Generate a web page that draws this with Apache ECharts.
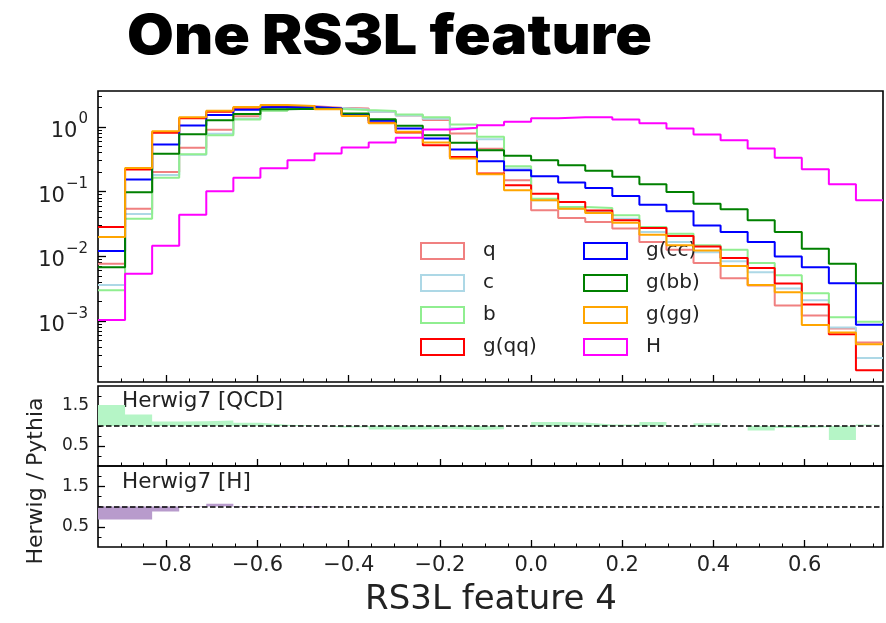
<!DOCTYPE html>
<html>
<head>
<meta charset="utf-8">
<script src="https://cdn.jsdelivr.net/npm/echarts@6/dist/echarts.min.js"></script>
<style>
html, body { margin: 0; padding: 0; background: #ffffff; }
#chart { width: 886px; height: 623px; }
</style>
</head>
<body>
<div id="chart"></div>
<script>
// Histogram bin edges (29 equal bins)
const binEdges = [-0.95, -0.890625, -0.83125, -0.771875, -0.7125, -0.653125, -0.59375, -0.534375,
  -0.475, -0.415625, -0.35625, -0.296875, -0.2375, -0.178125, -0.11875, -0.059375, 0.0,
  0.059375, 0.11875, 0.178125, 0.2375, 0.296875, 0.35625, 0.415625, 0.475, 0.534375,
  0.59375, 0.653125, 0.7125, 0.771875];

// Normalised densities per bin
const qVals   = [0.0077, 0.0545, 0.201, 0.473, 0.90, 1.45, 1.80, 2.08, 1.97, 1.92, 1.70, 1.50, 1.27, 0.79, 0.46,
  0.150, 0.0514, 0.039, 0.0339, 0.027, 0.0166, 0.0127, 0.0079, 0.0046, 0.00355, 0.00174, 0.00122, 0.00077, 0.00047];
const cVals   = [0.0036, 0.045, 0.18, 0.37, 0.78, 1.33, 1.80, 1.95, 1.95, 1.85, 1.70, 1.50, 1.33, 0.95, 0.645,
  0.227, 0.0733, 0.0545, 0.0483, 0.038, 0.0237, 0.0166, 0.0116, 0.0084, 0.0057, 0.0032, 0.0021, 0.0008, 0.00027];
const bVals   = [0.0030, 0.0382, 0.164, 0.377, 0.743, 1.30, 1.77, 1.92, 1.88, 1.81, 1.75, 1.55, 1.40, 1.09, 0.70,
  0.246, 0.0778, 0.0578, 0.0558, 0.043, 0.0284, 0.0224, 0.0148, 0.0127, 0.0079, 0.0051, 0.0027, 0.00115, 0.00098];
const gqqVals = [0.0284, 0.22, 0.81, 1.35, 1.71, 1.97, 2.10, 2.10, 1.92, 1.52, 1.15, 0.82, 0.52, 0.343, 0.19,
  0.125, 0.093, 0.069, 0.051, 0.036, 0.0274, 0.0206, 0.0142, 0.0094, 0.0066, 0.0038, 0.0018, 0.00063, 0.000175];
const gccVals = [0.0121, 0.153, 0.533, 1.05, 1.52, 1.84, 2.00, 2.03, 1.92, 1.57, 1.24, 0.94, 0.66, 0.447, 0.294,
  0.214, 0.173, 0.138, 0.114, 0.0855, 0.0628, 0.0495, 0.030, 0.0237, 0.0166, 0.00995, 0.0068, 0.00385, 0.00088];
const gbbVals = [0.0068, 0.0975, 0.383, 0.77, 1.26, 1.57, 1.86, 1.90, 1.88, 1.61, 1.31, 1.04, 0.74, 0.566, 0.436,
  0.356, 0.305, 0.255, 0.209, 0.169, 0.130, 0.0987, 0.0651, 0.0532, 0.036, 0.0237, 0.0131, 0.0077, 0.00385];
const gggVals = [0.0199, 0.232, 0.857, 1.40, 1.77, 2.02, 2.17, 2.09, 1.86, 1.47, 1.13, 0.84, 0.573, 0.323, 0.185,
  0.105, 0.0733, 0.0545, 0.0467, 0.0331, 0.0216, 0.0148, 0.0123, 0.0071, 0.0036, 0.0028, 0.00087, 0.00067, 0.00044];
const hVals   = [0.00104, 0.0054, 0.0146, 0.044, 0.101, 0.163, 0.23, 0.305, 0.388, 0.48, 0.573, 0.676, 0.91, 0.966, 1.06,
  1.20, 1.35, 1.40, 1.40, 1.30, 1.13, 0.944, 0.762, 0.622, 0.462, 0.332, 0.221, 0.130, 0.0733];

// Herwig / Pythia ratios per bin
const ratioQCD = [1.525, 1.29, 1.11, 1.12, 1.14, 1.08, 1.03, 1.01, 0.96, 0.97, 0.91, 0.91, 0.93, 0.90, 0.92,
  1.00, 1.10, 1.09, 1.04, 1.04, 1.10, 1.00, 1.07, 1.00, 0.89, 0.95, 0.97, 0.65, 1.04];
const ratioH   = [0.68, 0.68, 0.875, 0.99, 1.07, 1.01, 0.99, 0.98, 1.00, 1.00, 1.00, 1.00, 1.00, 1.00, 1.00,
  1.00, 1.00, 1.00, 1.00, 1.00, 1.00, 1.00, 1.00, 1.00, 1.00, 1.00, 1.00, 1.00, 1.00];

const classNames = ['q', 'c', 'b', 'g(qq)', 'g(cc)', 'g(bb)', 'g(gg)', 'H'];
const classValues = [qVals, cVals, bVals, gqqVals, gccVals, gbbVals, gggVals, hVals];

// Tick positions
const xMajorTicks = [-0.8, -0.6, -0.4, -0.2, 0.0, 0.2, 0.4, 0.6];
const xMinorTicks = [-0.9, -0.85, -0.75, -0.7, -0.65, -0.55, -0.5, -0.45, -0.35, -0.3, -0.25, -0.15, -0.1, -0.05,
  0.05, 0.1, 0.15, 0.25, 0.3, 0.35, 0.45, 0.5, 0.55, 0.65, 0.7, 0.75];
const yMajorTicks = [1e-3, 1e-2, 1e-1, 1];
const ratioTicks = [0.5, 1.5];
const ratioMinorTicks = [0.25, 0.75, 1.0, 1.25, 1.75];

const classColors = ['#F08080', '#ADD8E6', '#90EE90', '#FF0000', '#0000FF', '#008000', '#FFA500', '#FF00FF'];
const TEXT = '#222222';
const FONT = 'DejaVu Sans';

const X_MIN = binEdges[0];
const X_MAX = binEdges[binEdges.length - 1];
const Y_MIN = 1.15e-4;
const Y_MAX = 3.57;

// minor log ticks: 2..9 within each decade
const yMinorTicks = [];
for (let d = -4; d <= 0; d++) {
  for (let m = 2; m <= 9; m++) {
    const v = m * Math.pow(10, d);
    if (v > Y_MIN && v < Y_MAX) yMinorTicks.push(v);
  }
}

function stepData(vals) {
  const pts = vals.map((v, i) => [binEdges[i], v]);
  pts.push([binEdges[binEdges.length - 1], vals[vals.length - 1]]);
  return pts;
}

const LEFT = 98, WIDTH = 785;
const grids = [
  { left: LEFT, width: WIDTH, top: 91, height: 291 },
  { left: LEFT, width: WIDTH, top: 386, height: 80 },
  { left: LEFT, width: WIDTH, top: 466, height: 81 }
].map(g => Object.assign(g, { show: true, borderColor: '#000', borderWidth: 1.6, backgroundColor: 'transparent' }));

const hiddenLine = { show: false, onZero: false };

function xAxes(gridIndex, showLabels) {
  return [
    {
      type: 'value', gridIndex, min: X_MIN, max: X_MAX, position: 'bottom',
      axisLine: hiddenLine, splitLine: { show: false },
      axisTick: { show: true, inside: true, length: 7, lineStyle: { color: '#000', width: 1.3 }, customValues: xMajorTicks },
      axisLabel: { show: showLabels, customValues: xMajorTicks, color: TEXT, fontFamily: FONT, fontSize: 21, margin: 8,
        formatter: v => (v < 0 ? '\u2212' : '') + Math.abs(v).toFixed(1) }
    },
    {
      type: 'value', gridIndex, min: X_MIN, max: X_MAX, position: 'bottom',
      axisLine: hiddenLine, splitLine: { show: false }, axisLabel: { show: false },
      axisTick: { show: true, inside: true, length: 3.5, lineStyle: { color: '#000', width: 1 }, customValues: xMinorTicks }
    }
  ];
}

function ratioYAxes(gridIndex) {
  return [
    {
      type: 'value', gridIndex, min: 0, max: 2, position: 'left',
      axisLine: hiddenLine, splitLine: { show: false },
      axisTick: { show: true, inside: true, length: 7, lineStyle: { color: '#000', width: 1.3 }, customValues: ratioTicks },
      axisLabel: { customValues: ratioTicks, color: TEXT, fontFamily: FONT, fontSize: 17, margin: 9,
        formatter: v => v.toFixed(1) }
    },
    {
      type: 'value', gridIndex, min: 0, max: 2, position: 'left',
      axisLine: hiddenLine, splitLine: { show: false }, axisLabel: { show: false },
      axisTick: { show: true, inside: true, length: 3.5, lineStyle: { color: '#000', width: 1 },
        customValues: ratioMinorTicks }
    }
  ];
}

const series = classNames.map((name, i) => ({
  name, type: 'line', xAxisIndex: 0, yAxisIndex: 0, step: 'end', showSymbol: false, symbol: 'none',
  silent: true, animation: false, data: stepData(classValues[i]),
  lineStyle: { color: classColors[i], width: 2 }, itemStyle: { color: classColors[i] }, z: 2 + i
}));

function ratioSeries(name, vals, xi, yi, fill) {
  return {
    name, type: 'line', xAxisIndex: xi, yAxisIndex: yi, step: 'end', symbol: 'none', silent: true,
    animation: false, data: stepData(vals),
    lineStyle: { width: 0, opacity: 0 }, areaStyle: { color: fill, opacity: 1, origin: 1 },
    markLine: {
      silent: true, symbol: ['none', 'none'], label: { show: false }, animation: false,
      lineStyle: { color: '#000', type: [5.5, 2.5], width: 1.5 },
      data: [{ yAxis: 1 }]
    }
  };
}
series.push(ratioSeries('ratio QCD', ratioQCD, 2, 2, '#B5F5C6'));
series.push(ratioSeries('ratio H', ratioH, 4, 4, '#B89BCC'));

function legendCol(left, names) {
  return {
    orient: 'vertical', left, top: 241, padding: 0, itemWidth: 43, itemHeight: 16, itemGap: 12, icon: 'rect',
    selectedMode: false,
    textStyle: { color: TEXT, fontFamily: FONT, fontSize: 20, padding: [0, 0, 0, 14] },
    data: names.map(n => {
      const c = classColors[classNames.indexOf(n)];
      return { name: n, itemStyle: { color: 'rgba(0,0,0,0)', borderColor: c, borderWidth: 2 } };
    })
  };
}

const option = {
  backgroundColor: '#ffffff',
  animation: false,
  grid: grids,
  xAxis: [...xAxes(0, false), ...xAxes(1, false), ...xAxes(2, true)],
  yAxis: [
    {
      type: 'log', gridIndex: 0, min: Y_MIN, max: Y_MAX, position: 'left',
      axisLine: hiddenLine, splitLine: { show: false },
      axisTick: { show: true, inside: true, length: 8, lineStyle: { color: '#000', width: 1.3 }, customValues: yMajorTicks },
      axisLabel: {
        customValues: yMajorTicks, color: TEXT, fontFamily: FONT, margin: 10,
        formatter: v => {
          const e = Math.round(Math.log10(v));
          return '{b|10}{s|' + (e < 0 ? '\u2212' + (-e) : String(e)) + '}';
        },
        rich: {
          b: { fontSize: 21, fontFamily: FONT, color: TEXT, lineHeight: 30, verticalAlign: 'bottom' },
          s: { fontSize: 15, fontFamily: FONT, color: TEXT, lineHeight: 30, verticalAlign: 'top', padding: [0, 0, 12, 1] }
        }
      }
    },
    {
      type: 'log', gridIndex: 0, min: Y_MIN, max: Y_MAX, position: 'left',
      axisLine: hiddenLine, splitLine: { show: false }, axisLabel: { show: false },
      axisTick: { show: true, inside: true, length: 4, lineStyle: { color: '#000', width: 1 }, customValues: yMinorTicks }
    },
    ...ratioYAxes(1),
    ...ratioYAxes(2)
  ],
  legend: [
    legendCol(420, ['q', 'c', 'b', 'g(qq)']),
    legendCol(583, ['g(cc)', 'g(bb)', 'g(gg)', 'H'])
  ],
  graphic: [
    { type: 'text', left: 127, top: 10, scaleX: 1.1,
      style: { text: 'One RS3L feature', fill: '#000', fontFamily: 'Inter', fontWeight: 900, fontSize: 55 } },
    { type: 'text', left: 122, top: 390, style: { text: 'Herwig7 [QCD]', fill: TEXT, fontFamily: FONT, fontSize: 21.5 } },
    { type: 'text', left: 122, top: 471, style: { text: 'Herwig7 [H]', fill: TEXT, fontFamily: FONT, fontSize: 21.5 } },
    { type: 'text', x: 36, y: 481, rotation: Math.PI / 2,
      style: { text: 'Herwig / Pythia', fill: TEXT, fontFamily: FONT, fontSize: 22, align: 'center', verticalAlign: 'middle' } },
    { type: 'text', x: 491, y: 600,
      style: { text: 'RS3L feature 4', fill: TEXT, fontFamily: FONT, fontSize: 34, align: 'center', verticalAlign: 'middle' } }
  ],
  series
};

const chart = echarts.init(document.getElementById('chart'), null, { renderer: 'canvas' });
chart.setOption(option);
</script>
</body>
</html>
